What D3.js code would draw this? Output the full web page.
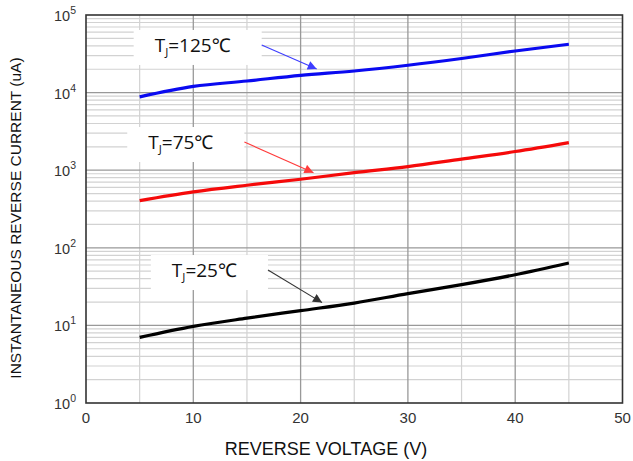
<!DOCTYPE html>
<html>
<head>
<meta charset="utf-8">
<script src="https://cdn.jsdelivr.net/npm/d3@7"></script>
<style>
  body { margin: 0; background: #fff; }
  svg { display: block; }
  .tick-label { font-family: "Liberation Sans", Arial, sans-serif; fill: #333; }
  .axis-title { font-family: "Liberation Sans", Arial, sans-serif; fill: #111; }
  .note { font-family: "Open Sans", "Noto Sans", sans-serif; fill: #111; }
</style>
</head>
<body>
<svg id="chart" width="633" height="461"></svg>
<script>
// Reverse leakage current vs reverse voltage, log y axis
const voltage = [5, 10, 15, 20, 25, 30, 35, 40, 45];
const current125 = [8800, 12000, 14100, 16700, 19000, 22500, 27500, 34400, 42000];
const current75 = [405, 525, 640, 765, 930, 1110, 1390, 1740, 2270];
const current25 = [7.0, 9.7, 12.4, 15.5, 19.4, 25.7, 33.5, 45, 63.7];

const xTicks = [0, 10, 20, 30, 40, 50];
const yDecades = [0, 1, 2, 3, 4, 5];

const series = [
  { temp: "125", values: current125, color: "#0a0af0", arrow: "#3d3dff", labelV: 6.4, labelI: 33400, tipV: 21.5 },
  { temp: "75", values: current75, color: "#f50a0a", arrow: "#ff3b3b", labelV: 5.8, labelI: 1875, tipV: 21.2 },
  { temp: "25", values: current25, color: "#000", arrow: "#333", labelV: 8.0, labelI: 42, tipV: 22.0 }
];

(function() {
  const svg = d3.select("#chart");
  const width = +svg.attr("width");
  const height = +svg.attr("height");
  const margin = { top: 15, right: 10.5, bottom: 58, left: 86 };
  const innerW = width - margin.left - margin.right;
  const innerH = height - margin.top - margin.bottom;

  const g = svg.append("g").attr("transform", `translate(${margin.left},${margin.top})`);

  const x = d3.scaleLinear().domain([0, 50]).range([0, innerW]);
  const y = d3.scaleLog().domain([1, 1e5]).range([innerH, 0]);

  // minor grid
  const minorX = d3.range(5, 50, 10);
  const minorY = [];
  yDecades.slice(0, -1).forEach(k => { for (let m = 2; m <= 9; m++) minorY.push(m * Math.pow(10, k)); });

  g.selectAll(".gx-minor").data(minorX).join("line")
    .attr("x1", d => x(d)).attr("x2", d => x(d))
    .attr("y1", 0).attr("y2", innerH)
    .attr("stroke", "#d2d2d2").attr("stroke-width", 1.2);
  g.selectAll(".gy-minor").data(minorY).join("line")
    .attr("x1", 0).attr("x2", innerW)
    .attr("y1", d => y(d)).attr("y2", d => y(d))
    .attr("stroke", "#d2d2d2").attr("stroke-width", 1.2);

  // major grid
  g.selectAll(".gx-major").data(xTicks.slice(1, -1)).join("line")
    .attr("x1", d => x(d)).attr("x2", d => x(d))
    .attr("y1", 0).attr("y2", innerH)
    .attr("stroke", "#999").attr("stroke-width", 1.3);
  g.selectAll(".gy-major").data(yDecades.slice(1, -1)).join("line")
    .attr("x1", 0).attr("x2", innerW)
    .attr("y1", d => y(Math.pow(10, d))).attr("y2", d => y(Math.pow(10, d)))
    .attr("stroke", "#999").attr("stroke-width", 1.3);

  // frame
  g.append("rect")
    .attr("width", innerW).attr("height", innerH)
    .attr("fill", "none").attr("stroke", "#333").attr("stroke-width", 1.6);

  // tick labels
  g.selectAll(".xl").data(xTicks).join("text")
    .attr("class", "tick-label")
    .attr("x", d => x(d)).attr("y", innerH + 20)
    .attr("text-anchor", "middle")
    .attr("font-size", 15)
    .text(d => d);

  const yl = g.selectAll(".yl").data(yDecades).join("text")
    .attr("class", "tick-label")
    .attr("x", -10).attr("y", d => y(Math.pow(10, d)) + 6)
    .attr("text-anchor", "end")
    .attr("font-size", 14.5);
  yl.append("tspan").text("10");
  yl.append("tspan").attr("dy", -7).attr("font-size", 10.5).text(d => d);

  // axis titles
  svg.append("text")
    .attr("class", "axis-title")
    .attr("x", 326).attr("y", 455)
    .attr("text-anchor", "middle")
    .attr("font-size", 18)
    .text("REVERSE VOLTAGE (V)");

  svg.append("text")
    .attr("class", "axis-title")
    .attr("transform", `translate(21, 218) rotate(-90)`)
    .attr("text-anchor", "middle")
    .attr("font-size", 15.5)
    .text("INSTANTANEOUS REVERSE CURRENT (uA)");

  // curves
  const line = d3.line()
    .x(d => x(d[0]))
    .y(d => y(d[1]))
    .curve(d3.curveMonotoneX);

  series.forEach(s => {
    g.append("path")
      .datum(voltage.map((v, i) => [v, s.values[i]]))
      .attr("fill", "none")
      .attr("stroke", s.color)
      .attr("stroke-width", 3.2)
      .attr("stroke-linejoin", "round")
      .attr("d", line);
  });

  // arrow markers
  const defs = svg.append("defs");
  series.forEach((s, i) => {
    defs.append("marker")
      .attr("id", "arr" + i)
      .attr("viewBox", "0 0 10 10")
      .attr("refX", 10).attr("refY", 5)
      .attr("markerWidth", 12).attr("markerHeight", 9)
      .attr("markerUnits", "userSpaceOnUse")
      .attr("orient", "auto")
      .append("path")
      .attr("d", "M0,0 L10,5 L0,10 z")
      .attr("fill", s.arrow);
  });

  // labels with white boxes and arrows
  series.forEach((s, i) => {
    const lx = x(s.labelV), ly = y(s.labelI);
    const box = g.append("rect").attr("fill", "#fff");
    const t = g.append("text")
      .attr("class", "note")
      .attr("x", lx).attr("y", ly)
      .attr("font-size", 19);
    t.append("tspan").text("T");
    t.append("tspan").attr("font-size", 11.5).attr("dy", 4).text("J");
    t.append("tspan").attr("dy", -4).text("=" + s.temp + "℃");
    const bb = t.node().getBBox();
    const bx0 = bb.x - 21, bx1 = bb.x + bb.width + 31;
    box.attr("x", bx0).attr("y", ly - 22)
      .attr("width", bx1 - bx0).attr("height", 35);

    // arrow tip sits just above the curve
    const logAt = d3.scaleLinear().domain(voltage).range(s.values.map(Math.log10));
    const tx = x(s.tipV), ty = y(Math.pow(10, logAt(s.tipV))) - 5;
    g.append("line")
      .attr("x1", bx1).attr("y1", ly - 7)
      .attr("x2", tx).attr("y2", ty)
      .attr("stroke", s.arrow).attr("stroke-width", 1.1)
      .attr("marker-end", `url(#arr${i})`);
  });
})();
</script>
</body>
</html>
